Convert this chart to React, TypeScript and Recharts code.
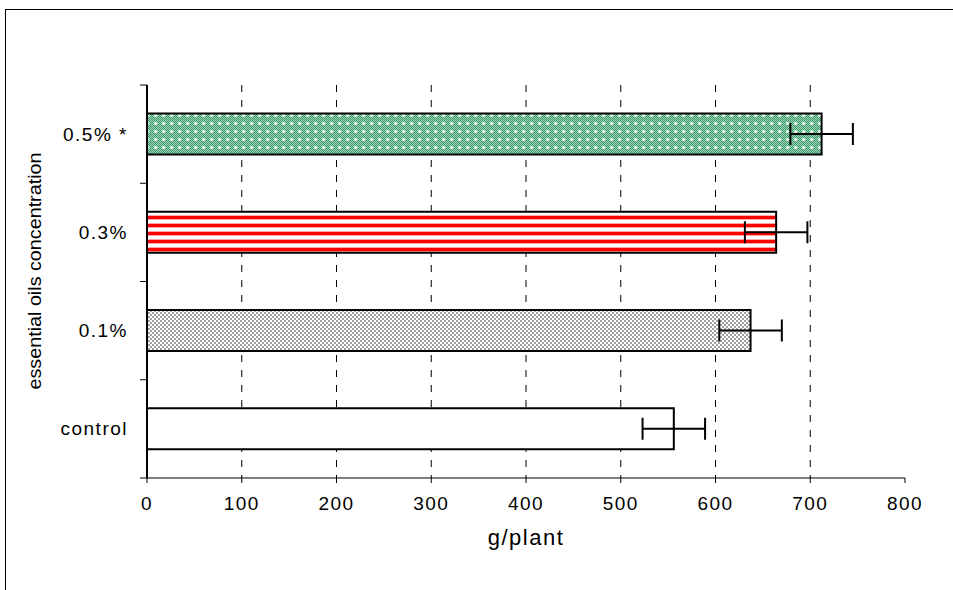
import React from 'react'
import {
  BarChart,
  Bar,
  Cell,
  XAxis,
  YAxis,
  CartesianGrid,
  ErrorBar,
  Label,
} from 'recharts'

const categories = ['0.5% *', '0.3%', '0.1%', 'control']
const weights = [712, 664, 637, 556]
const errors = [33, 33, 33, 33]
const fills = ['url(#greenDots)', 'url(#redStripes)', 'url(#grayCheck)', '#ffffff']
const xTicks = [0, 100, 200, 300, 400, 500, 600, 700, 800]
const gridValues = [100, 200, 300, 400, 500, 600, 700]

const data = categories.map((name, i) => ({ name, value: weights[i], err: errors[i] }))

const font = '"Liberation Sans", Arial, sans-serif'
const Y_TICK_SIZE = 6
const Y_TICK_MARGIN = 13

// dotted green with white crosses, like the old excel fill
const greenDots: [number, number][] = [
  [0, 0], [2, 0], [4, 0], [6, 0], [1, 1], [3, 1], [5, 1], [7, 1],
  [0, 2], [6, 2], [1, 3], [7, 3], [0, 4], [6, 4], [1, 5], [3, 5], [5, 5], [7, 5],
  [0, 6], [2, 6], [4, 6], [6, 6], [1, 7], [3, 7], [5, 7], [7, 7],
]

function YLabel() {
  const cx = 34
  const cy = 271
  return (
    <text
      x={cx}
      y={cy}
      transform={`rotate(-90, ${cx}, ${cy})`}
      textAnchor="middle"
      dominantBaseline="central"
      fontSize={19}
      fontFamily={font}
      fill="#000"
      textLength={237}
      lengthAdjust="spacingAndGlyphs"
    >
      essential oils concentration
    </text>
  )
}

// category label in the middle, tick marks on the band edges (excel style)
function CategoryTick(props: any) {
  const { x, y, payload, index } = props
  const axisX = x + Y_TICK_SIZE + Y_TICK_MARGIN
  const half = payload.offset || 0
  return (
    <g>
      <line x1={axisX - 7} x2={axisX} y1={y - half} y2={y - half} stroke="#000" />
      {index === categories.length - 1 && (
        <line x1={axisX - 7} x2={axisX} y1={y + half} y2={y + half} stroke="#000" />
      )}
      <text
        x={x}
        y={y}
        textAnchor="end"
        dominantBaseline="central"
        fontSize={19}
        fontFamily={font}
        letterSpacing={1.5}
        fill="#000"
      >
        {payload.value}
      </text>
    </g>
  )
}

export default function App() {
  return (
    <div style={{ position: 'absolute', left: 0, top: 0, width: 953, height: 590, background: '#fff' }}>
      <div
        style={{
          position: 'absolute',
          left: 5,
          top: 9,
          width: 948,
          height: 581,
          borderLeft: '1px solid #000',
          borderTop: '1px solid #000',
          boxSizing: 'border-box',
        }}
      />
      <BarChart
        width={953}
        height={590}
        data={data}
        layout="vertical"
        margin={{ top: 85, right: 48, bottom: 37, left: 0 }}
        barCategoryGap="29%"
        style={{ position: 'absolute', left: 0, top: 0, fontFamily: font }}
      >
        <defs>
          <pattern id="greenDots" width="8" height="8" patternUnits="userSpaceOnUse">
            <rect width="8" height="8" fill="#9fd6ba" />
            {greenDots.map(([x, y]) => (
              <rect key={`${x}-${y}`} x={x} y={y} width="1" height="1" fill="#3a9868" />
            ))}
            <rect x="3" y="2" width="1" height="3" fill="#ffffff" />
            <rect x="2" y="3" width="3" height="1" fill="#ffffff" />
          </pattern>
          <pattern id="redStripes" width="8" height="8" patternUnits="userSpaceOnUse">
            <rect width="8" height="8" fill="#ffffff" />
            <rect y="0" width="8" height="3" fill="#ff0000" />
            <rect y="3" width="8" height="1" fill="#ffa8a8" />
            <rect y="7" width="8" height="1" fill="#ffa8a8" />
          </pattern>
          <pattern id="grayCheck" width="4" height="4" patternUnits="userSpaceOnUse">
            <rect width="4" height="4" fill="#ffffff" />
            <rect x="0" y="0" width="2" height="2" fill="#a0a0a0" />
            <rect x="2" y="2" width="2" height="2" fill="#a0a0a0" />
          </pattern>
        </defs>
        <CartesianGrid horizontal={false} stroke="#000" strokeDasharray="7 8" verticalValues={gridValues} />
        <XAxis
          type="number"
          dataKey="value"
          domain={[0, 800]}
          ticks={xTicks}
          interval={0}
          tickSize={5}
          tickMargin={14}
          stroke="#000"
          tick={{ fill: '#000', fontSize: 19, fontFamily: font, letterSpacing: 1.5 }}
          height={75}
        >
          <Label value="g/plant" position="insideBottom" offset={8} fontSize={22} fill="#000" fontFamily={font} letterSpacing={1.5} />
        </XAxis>
        <XAxis xAxisId="top" orientation="top" type="number" domain={[0, 800]} tick={false} tickLine={false} stroke="#999" strokeWidth={2} height={0} />
        <YAxis
          type="category"
          dataKey="name"
          width={147}
          tickLine={false}
          tickSize={Y_TICK_SIZE}
          tickMargin={Y_TICK_MARGIN}
          stroke="#000"
          strokeWidth={2}
          tick={<CategoryTick />}
        >
          <Label content={<YLabel />} />
        </YAxis>
        <YAxis yAxisId="right" orientation="right" type="number" domain={[0, 4]} tick={false} tickLine={false} stroke="#999" strokeWidth={2} width={0} />
        <Bar dataKey="value" stroke="#000" strokeWidth={2} isAnimationActive={false}>
          {data.map((d, i) => (
            <Cell key={d.name} fill={fills[i]} />
          ))}
          <ErrorBar dataKey="err" width={11} stroke="#000" strokeWidth={2} direction="x" />
        </Bar>
      </BarChart>
    </div>
  )
}
